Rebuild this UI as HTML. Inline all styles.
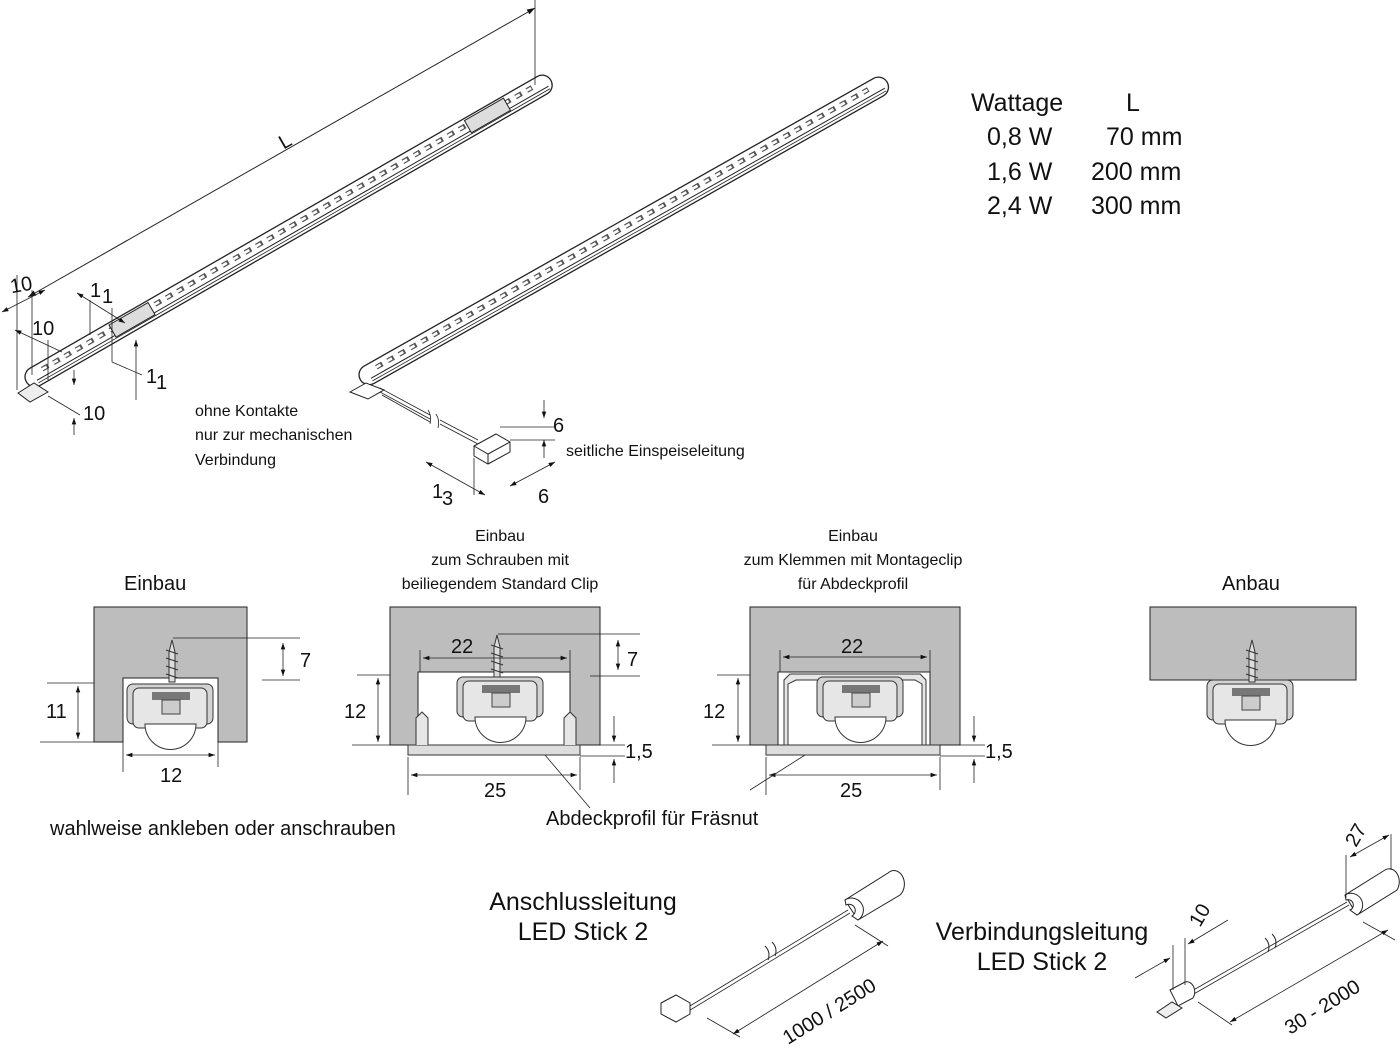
<!DOCTYPE html>
<html><head><meta charset="utf-8"><style>
html,body{margin:0;padding:0;background:#fff}
svg{display:block}
text{font-family:"Liberation Sans",sans-serif;fill:#111}
</style></head><body>
<svg width="1400" height="1056" viewBox="0 0 1400 1056" xmlns="http://www.w3.org/2000/svg">
<defs>
<marker id="a" viewBox="0 0 10 10" refX="10" refY="5" markerWidth="10" markerHeight="8" orient="auto-start-reverse"><path d="M0,1.5 L10,5 L0,8.5z" fill="#111"/></marker>
<g id="stick">
  <path d="M0,-16 L585,-16 A10,10 0 0 1 585,4 L0,4 A10,10 0 0 1 0,-16z" fill="#fff" stroke="#222" stroke-width="1.3"/>
  <line x1="0" y1="-2" x2="590" y2="-2" stroke="#222" stroke-width="1"/>
  <line x1="0" y1="1" x2="590" y2="1" stroke="#222" stroke-width="0.8"/>
  <line x1="10" y1="-9" x2="575" y2="-9" stroke="#555" stroke-width="5" stroke-dasharray="7,6"/>
  <line x1="10" y1="-9" x2="575" y2="-9" stroke="#fff" stroke-width="2.6" stroke-dasharray="5,8"/>
</g>
</defs>

<!-- Stick 1 -->
<g transform="translate(38,382) rotate(-29.9)"><use href="#stick"/>
<rect x="90" y="-14" width="45" height="14" fill="#ddd" stroke="#222"/>
<rect x="500" y="-14" width="45" height="14" fill="#ddd" stroke="#222"/>
</g>
<path d="M18,393 L34,383 L48,392 L30,402z" fill="#eee" stroke="#222"/>
<!-- L dimension -->
<line x1="28" y1="297" x2="535" y2="8" stroke="#222" marker-start="url(#a)" marker-end="url(#a)"/>
<line x1="535" y1="0" x2="535" y2="85" stroke="#222" stroke-width="0.8"/>
<text x="280" y="148" font-size="20" transform="rotate(-29.9 285 142)">L</text>
<!-- small dims stick1 -->
<g stroke="#222" stroke-width="0.8" fill="none">
<line x1="17" y1="275" x2="17" y2="390"/><line x1="32" y1="290" x2="32" y2="375"/>
<line x1="2" y1="312" x2="45" y2="290" marker-start="url(#a)" marker-end="url(#a)"/>
<line x1="15" y1="330" x2="62" y2="352" marker-start="url(#a)"/>
<line x1="48" y1="340" x2="48" y2="380"/>
<line x1="77" y1="293" x2="125" y2="323" marker-start="url(#a)" marker-end="url(#a)"/>
<line x1="90" y1="300" x2="90" y2="335"/><line x1="112" y1="308" x2="112" y2="362"/>
<line x1="112" y1="362" x2="142" y2="375"/>
<line x1="136" y1="340" x2="136" y2="400" marker-start="url(#a)"/>
<line x1="48" y1="396" x2="80" y2="415"/>
<line x1="74" y1="370" x2="74" y2="385" marker-end="url(#a)"/>
<line x1="74" y1="418" x2="74" y2="435" marker-start="url(#a)"/>
</g>
<g font-size="20">
<text x="10" y="292" transform="rotate(-10 18 285)">10</text>
<text x="32" y="335">10</text>
<text x="90" y="297">1</text><text x="102" y="303">1</text>
<text x="146" y="383">1</text><text x="156" y="389">1</text>
<text x="83" y="420">10</text>
</g>
<text x="195" y="416" font-size="16">ohne Kontakte</text>
<text x="195" y="440" font-size="16">nur zur mechanischen</text>
<text x="195" y="465" font-size="16">Verbindung</text>

<!-- Stick 2 -->
<g transform="translate(372,380) rotate(-29.45)"><use href="#stick"/></g>
<path d="M350,392 L366,383 L384,390 L368,399z" fill="#fff" stroke="#222"/>
<path d="M380,388 L430,415 M380,392 L430,419 M382,395 L430,422 M440,420 L478,440 M440,424 L478,444" stroke="#222" stroke-width="0.8"/>
<path d="M428,410 q4,6 2,14 M436,414 q4,6 2,14" stroke="#222" fill="none" stroke-width="0.8"/>
<path d="M474,446 L496,434 L510,442 L510,452 L488,464 L474,456z" fill="#fff" stroke="#222"/>
<path d="M474,446 L488,454 L510,442 M488,454 L488,464" fill="none" stroke="#222"/>
<g stroke="#222" stroke-width="0.8" fill="none">
<line x1="544" y1="400" x2="544" y2="418" marker-end="url(#a)"/><line x1="544" y1="440" x2="544" y2="458" marker-start="url(#a)"/>
<line x1="500" y1="427" x2="555" y2="427"/><line x1="510" y1="440" x2="555" y2="440"/>
<line x1="426" y1="462" x2="485" y2="495" marker-start="url(#a)" marker-end="url(#a)"/>
<line x1="474" y1="458" x2="474" y2="495"/>
<line x1="510" y1="486" x2="555" y2="462" marker-start="url(#a)" marker-end="url(#a)"/>
</g>
<text x="553" y="432" font-size="20">6</text>
<text x="538" y="503" font-size="20">6</text>
<text x="432" y="498" font-size="20">1</text><text x="442" y="505" font-size="20">3</text>
<text x="566" y="456" font-size="16">seitliche Einspeiseleitung</text>

<!-- Table -->
<g font-size="25">
<text x="971" y="111">Wattage</text><text x="1126" y="111">L</text>
<text x="987" y="145">0,8 W</text><text x="1106" y="145">70 mm</text>
<text x="987" y="180">1,6 W</text><text x="1091" y="180">200 mm</text>
<text x="987" y="214">2,4 W</text><text x="1091" y="214">300 mm</text>
</g>

<!-- Section 1: Einbau -->
<text x="124" y="590" font-size="20">Einbau</text>
<path d="M94,607 H247 V742 H218 V678 H123 V742 H94z" fill="#bdbdbd" stroke="#222"/>
<g id="clip">
<rect x="127" y="684" width="86" height="40" rx="6" fill="#d3d3d3" stroke="#333"/>
<rect x="133" y="688" width="74" height="40" rx="6" fill="#e6e6e6" stroke="#333"/>
<rect x="152" y="692" width="38" height="8" fill="#777"/>
<rect x="162" y="700" width="18" height="14" fill="#ccc" stroke="#444"/>
<path d="M145,724 A25,25 0 0 0 196,724z" fill="#fff" stroke="#333"/>
</g>
<path d="M172,640 l-3,12 l0,30 l6,0 l0,-30z" fill="#ddd" stroke="#333"/>
<path d="M166,650 l12,4 M166,658 l12,4 M166,666 l12,4 M166,674 l12,4" stroke="#333"/>
<g stroke="#222" stroke-width="0.8" fill="none">
<line x1="173" y1="638" x2="222" y2="638"/><line x1="222" y1="638" x2="300" y2="638"/>
<line x1="262" y1="680" x2="300" y2="680"/>
<line x1="283" y1="643" x2="283" y2="676" marker-start="url(#a)" marker-end="url(#a)"/>
<line x1="47" y1="683" x2="94" y2="683"/><line x1="40" y1="742" x2="94" y2="742"/>
<line x1="78" y1="686" x2="78" y2="739" marker-start="url(#a)" marker-end="url(#a)"/>
<line x1="123" y1="742" x2="123" y2="772"/><line x1="218" y1="742" x2="218" y2="767"/>
<line x1="126" y1="755" x2="215" y2="755" marker-start="url(#a)" marker-end="url(#a)"/>
</g>
<text x="300" y="667" font-size="20">7</text>
<text x="46" y="718" font-size="20">11</text>
<text x="160" y="782" font-size="20">12</text>
<text x="50" y="835" font-size="20">wahlweise ankleben oder anschrauben</text>

<!-- Section 2 -->
<text x="500" y="541" font-size="16" text-anchor="middle">Einbau</text>
<text x="500" y="565" font-size="16" text-anchor="middle">zum Schrauben mit</text>
<text x="500" y="589" font-size="16" text-anchor="middle">beiliegendem Standard Clip</text>
<path d="M390,607 H600 V745 H570 V672 H418 V745 H390z" fill="#bdbdbd" stroke="#222"/>
<rect x="408" y="745" width="172" height="10" fill="#ddd" stroke="#333"/>
<path d="M416,745 V718 L422,712 L428,718 V745 M564,745 V718 L570,712 L576,718 V745" fill="#e6e6e6" stroke="#333"/>
<g transform="translate(330,-7)"><use href="#clip"/></g>
<path d="M497,635 l-3,12 l0,30 l6,0 l0,-30z" fill="#ddd" stroke="#333"/>
<path d="M491,645 l12,4 M491,653 l12,4 M491,661 l12,4 M491,669 l12,4" stroke="#333"/>
<g stroke="#222" stroke-width="0.8" fill="none">
<line x1="498" y1="634" x2="640" y2="634"/><line x1="590" y1="676" x2="640" y2="676"/>
<line x1="420" y1="650" x2="420" y2="672"/><line x1="570" y1="650" x2="570" y2="672"/>
<line x1="423" y1="658" x2="567" y2="658" marker-start="url(#a)" marker-end="url(#a)"/>
<line x1="618" y1="640" x2="618" y2="670" marker-start="url(#a)" marker-end="url(#a)"/>
<line x1="357" y1="675" x2="390" y2="675"/><line x1="352" y1="745" x2="408" y2="745"/>
<line x1="378" y1="678" x2="378" y2="742" marker-start="url(#a)" marker-end="url(#a)"/>
<line x1="580" y1="745" x2="625" y2="745"/><line x1="580" y1="756" x2="625" y2="756"/>
<line x1="614" y1="716" x2="614" y2="742" marker-end="url(#a)"/><line x1="614" y1="783" x2="614" y2="759" marker-end="url(#a)"/>
<line x1="408" y1="757" x2="408" y2="795"/><line x1="580" y1="757" x2="580" y2="790"/>
<line x1="411" y1="775" x2="577" y2="775" marker-start="url(#a)" marker-end="url(#a)"/>
<line x1="545" y1="755" x2="590" y2="808"/>
</g>
<text x="451" y="653" font-size="20">22</text>
<text x="627" y="666" font-size="20">7</text>
<text x="344" y="718" font-size="20">12</text>
<text x="625" y="758" font-size="20">1,5</text>
<text x="484" y="797" font-size="20">25</text>
<text x="546" y="825" font-size="20">Abdeckprofil für Fräsnut</text>

<!-- Section 3 -->
<text x="853" y="541" font-size="16" text-anchor="middle">Einbau</text>
<text x="853" y="565" font-size="16" text-anchor="middle">zum Klemmen mit Montageclip</text>
<text x="853" y="589" font-size="16" text-anchor="middle">für Abdeckprofil</text>
<path d="M750,607 H960 V745 H930 V672 H778 V745 H750z" fill="#bdbdbd" stroke="#222"/>
<path d="M784,745 V680 L790,674 H920 L926,680 V745 L922,745 V684 L915,680 H796 L788,684 V745z" fill="#e6e6e6" stroke="#333"/>
<rect x="766" y="745" width="174" height="10" fill="#ddd" stroke="#333"/>
<g transform="translate(690,-7)"><use href="#clip"/></g>
<g stroke="#222" stroke-width="0.8" fill="none">
<line x1="780" y1="650" x2="780" y2="672"/><line x1="930" y1="650" x2="930" y2="672"/>
<line x1="783" y1="657" x2="927" y2="657" marker-start="url(#a)" marker-end="url(#a)"/>
<line x1="717" y1="675" x2="750" y2="675"/><line x1="712" y1="745" x2="766" y2="745"/>
<line x1="738" y1="678" x2="738" y2="742" marker-start="url(#a)" marker-end="url(#a)"/>
<line x1="940" y1="745" x2="985" y2="745"/><line x1="940" y1="756" x2="985" y2="756"/>
<line x1="974" y1="716" x2="974" y2="742" marker-end="url(#a)"/><line x1="974" y1="783" x2="974" y2="759" marker-end="url(#a)"/>
<line x1="766" y1="757" x2="766" y2="795"/><line x1="940" y1="757" x2="940" y2="790"/>
<line x1="769" y1="775" x2="937" y2="775" marker-start="url(#a)" marker-end="url(#a)"/>
<line x1="805" y1="755" x2="750" y2="790"/>
</g>
<text x="841" y="653" font-size="20">22</text>
<text x="703" y="718" font-size="20">12</text>
<text x="985" y="758" font-size="20">1,5</text>
<text x="840" y="797" font-size="20">25</text>

<!-- Anbau -->
<text x="1222" y="590" font-size="20">Anbau</text>
<rect x="1150" y="607" width="206" height="73" fill="#bdbdbd" stroke="#222"/>
<g transform="translate(1080,-4)"><use href="#clip"/></g>
<path d="M1252,640 l-3,12 l0,30 l6,0 l0,-30z" fill="#ddd" stroke="#333"/>
<path d="M1246,650 l12,4 M1246,658 l12,4 M1246,666 l12,4 M1246,674 l12,4" stroke="#333"/>

<!-- Anschlussleitung -->
<text x="583" y="910" font-size="25" text-anchor="middle">Anschlussleitung</text>
<text x="583" y="940" font-size="25" text-anchor="middle">LED Stick 2</text>
<path d="M845,900 L888,873 A10,13 0 0 1 900,895 L858,920z" fill="#fff" stroke="#222"/>
<path d="M845,900 A8,8 0 0 1 858,920 L852,916 A5,5 0 0 0 846,905z" fill="#fff" stroke="#222"/>
<path d="M680,1012 L848,910 M682,1015 L850,913" stroke="#222" stroke-width="0.8"/>
<path d="M765,946 q6,6 3,14 M772,942 q6,6 3,14" stroke="#222" fill="none"/>
<path d="M661,1003 L676,995 L690,1003 L690,1014 L676,1022 L661,1014z" fill="#fff" stroke="#222"/>
<g stroke="#222" stroke-width="0.8" fill="none">
<line x1="707" y1="1018" x2="740" y2="1037"/><line x1="855" y1="925" x2="888" y2="946"/>
<line x1="733" y1="1034" x2="883" y2="941" marker-start="url(#a)" marker-end="url(#a)"/>
</g>
<text x="788" y="1045" font-size="20" transform="rotate(-32 788 1045)">1000 / 2500</text>

<!-- Verbindungsleitung -->
<text x="1042" y="940" font-size="25" text-anchor="middle">Verbindungsleitung</text>
<text x="1042" y="970" font-size="25" text-anchor="middle">LED Stick 2</text>
<path d="M1345,895 L1385,870 A10,13 0 0 1 1397,890 L1357,915z" fill="#fff" stroke="#222"/>
<path d="M1345,895 A8,8 0 0 1 1357,915 L1350,910 A5,5 0 0 0 1346,900z" fill="#fff" stroke="#222"/>
<path d="M1190,992 L1347,902 M1192,995 L1349,905" stroke="#222" stroke-width="0.8"/>
<path d="M1265,938 q6,6 3,14 M1272,934 q6,6 3,14" stroke="#222" fill="none"/>
<path d="M1170,990 L1185,982 A8,10 0 0 1 1193,998 L1178,1006z" fill="#fff" stroke="#222"/>
<path d="M1157,1012 L1172,1002 L1182,1008 L1166,1018z" fill="#eee" stroke="#222"/>
<g stroke="#222" stroke-width="0.8" fill="none">
<line x1="1346" y1="855" x2="1346" y2="898"/><line x1="1391" y1="834" x2="1391" y2="870"/>
<line x1="1350" y1="857" x2="1389" y2="835" marker-start="url(#a)" marker-end="url(#a)"/>
<line x1="1173" y1="945" x2="1173" y2="990"/><line x1="1185" y1="938" x2="1185" y2="985"/>
<line x1="1135" y1="978" x2="1170" y2="958" marker-end="url(#a)"/>
<line x1="1228" y1="920" x2="1188" y2="944" marker-end="url(#a)"/>
<line x1="1198" y1="1002" x2="1232" y2="1025"/><line x1="1363" y1="922" x2="1395" y2="940"/>
<line x1="1230" y1="1022" x2="1388" y2="930" marker-start="url(#a)" marker-end="url(#a)"/>
</g>
<text x="1200" y="928" font-size="20" transform="rotate(-60 1200 928)">10</text>
<text x="1356" y="848" font-size="20" transform="rotate(-60 1356 848)">27</text>
<text x="1290" y="1035" font-size="20" transform="rotate(-32 1290 1035)">30 - 2000</text>
</svg>
</body></html>
